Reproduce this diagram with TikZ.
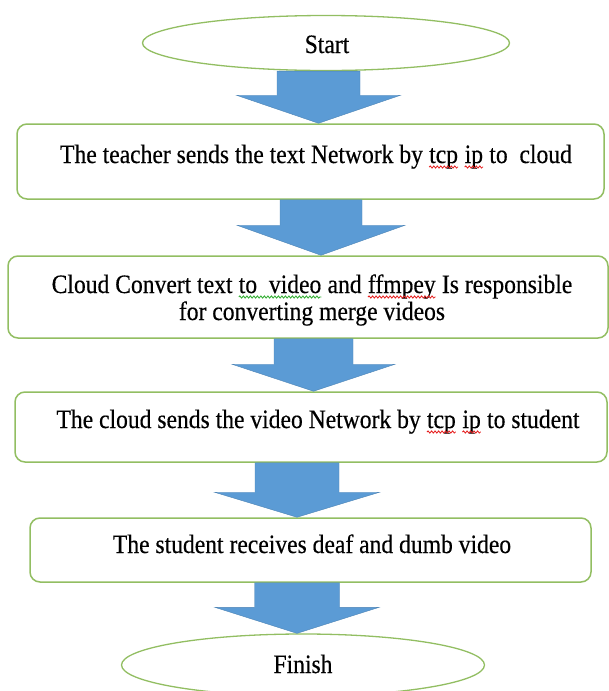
\documentclass[tikz,border=0pt]{standalone}
\usepackage{fontspec}
\setmainfont{Liberation Serif}[FakeStretch=0.89,FakeBold=0.4]
\usetikzlibrary{shapes.geometric,calc,decorations.pathmorphing}
\definecolor{boxgreen}{RGB}{146,190,98}
\definecolor{arrowblue}{RGB}{91,155,213}
\definecolor{spellred}{RGB}{230,30,30}
\definecolor{spellgreen}{RGB}{40,170,40}

% Block arrow from the bottom of one node to the top of the next.
% #1 upper node, #2 lower node, #3 centre x, #4 half shaft width,
% #5 half head width, #6 head height (all in pt)
\newcommand\flowarrow[6]{%
  \path[flow] let \p1=(#1.south), \p2=(#2.north) in
    ({#3pt-#4pt},\y1) -- ({#3pt+#4pt},\y1) -- ({#3pt+#4pt},{\y2+#6pt})
    -- ({#3pt+#5pt},{\y2+#6pt}) -- ({#3pt},\y2) -- ({#3pt-#5pt},{\y2+#6pt})
    -- ({#3pt-#4pt},{\y2+#6pt}) -- cycle;}

% word with a wavy proofing underline
\newcommand\spellmark[2]{\tikz[baseline=(w.base)]{%
  \node[inner sep=0pt, outer sep=0pt] (w) {#2};
  \draw[#1, line width=0.8pt, decorate,
    decoration={snake, amplitude=1.1pt, segment length=3.5pt}]
    ([yshift=-4pt]w.base west) -- ([yshift=-4pt]w.base east);}}

\begin{document}
\begin{tikzpicture}[x=1pt,y=-1pt,
  stepbox/.style={draw=boxgreen, line width=1.5pt, rounded corners=10pt,
    fill=white, inner sep=0pt},
  endcap/.style={draw=boxgreen, line width=1.3pt, ellipse, inner sep=0pt,
    fill=white},
  lbl/.style={font=\fontsize{26.5}{27}\selectfont, inner sep=0pt, anchor=base},
  flow/.style={fill=arrowblue, draw=arrowblue!85!black, line width=0.4pt}]
  \useasboundingbox (0,0) rectangle (609,691);

  % terminals and process boxes
  \node[endcap, minimum width=367pt, minimum height=55pt] (start) at (326,43) {};
  \node[stepbox, minimum width=587pt, minimum height=75pt] (b1) at (310.5,161.5) {};
  \node[stepbox, minimum width=600pt, minimum height=82pt] (b2) at (308,297) {};
  \node[stepbox, minimum width=592pt, minimum height=70pt] (b3) at (311,427) {};
  \node[stepbox, minimum width=561pt, minimum height=64pt] (b4) at (310.5,550) {};
  \node[endcap, minimum width=363pt, minimum height=62pt] (finish) at (303,665) {};

  % labels (placed on their baselines)
  \node[lbl] (startlbl) at (327,53) {Start};
  \node[lbl] (t1) at (316,163) {The teacher sends the text Network by
    \spellmark{spellred}{tcp} \spellmark{spellred}{ip} to~ cloud};
  \node[lbl] (t2a) at (312,293) {Cloud Convert text \spellmark{spellgreen}{to~ video}
    and \spellmark{spellred}{ffmpey} Is responsible};
  \node[lbl] (t2b) at (312,320) {for converting merge videos};
  \node[lbl] (t3) at (318,428) {The cloud sends the video Network by
    \spellmark{spellred}{tcp} \spellmark{spellred}{ip} to student};
  \node[lbl] (t4) at (312,553) {The student receives deaf and dumb video};
  \node[lbl] (finlbl) at (303,673) {Finish};

  % flow arrows
  \flowarrow{start}{b1}{318.5}{41.5}{82}{28}
  \flowarrow{b1}{b2}{321}{41}{84}{30}
  \flowarrow{b2}{b3}{313.5}{39.5}{81.5}{27}
  \flowarrow{b3}{b4}{297}{42}{82.5}{25}
  \flowarrow{b4}{finish}{297}{42.5}{82}{26}
\end{tikzpicture}
\end{document}
